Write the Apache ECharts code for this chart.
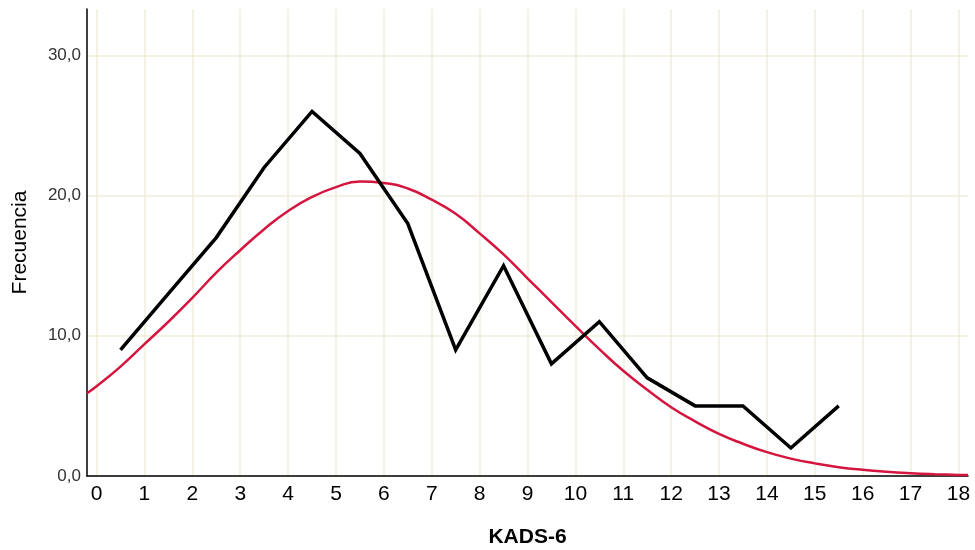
<!DOCTYPE html>
<html>
<head>
<meta charset="utf-8">
<script src="https://cdn.jsdelivr.net/npm/echarts@6/dist/echarts.min.js"></script>
<style>html,body{margin:0;padding:0;background:#fff}#c{width:975px;height:550px}</style>
</head>
<body>
<div id="c"></div>
<script>
// Frequency polygon (midpoints of score intervals)
const polyX = [0.5, 1.5, 2.5, 3.5, 4.5, 5.5, 6.5, 7.5, 8.5, 9.5, 10.5, 11.5, 12.5, 13.5, 14.5, 15.5];
const polyY = [9, 13, 17, 22, 26, 23, 18, 9, 15, 8, 11, 7, 5, 5, 2, 5];
// Normal curve, values
const curveX = [-0.2, 0, 0.5, 1, 1.5, 2, 2.5, 3, 3.5, 4, 4.5, 5, 5.5, 6, 6.5, 7, 7.5, 8, 8.5, 9, 9.5, 10,
                10.5, 11, 11.5, 12, 12.5, 13, 13.5, 14, 14.5, 15, 15.5, 16, 16.5, 17, 17.5, 18, 18.2];
const curveY = [5.9, 6.4, 7.8, 9.4, 11.0, 12.7, 14.5, 16.1, 17.6, 18.9, 19.9, 20.6, 21.0, 20.9, 20.5, 19.7, 18.7, 17.3, 15.8, 14.1, 12.4, 10.7,
                9.05, 7.5, 6.15, 4.9, 3.9, 3.0, 2.3, 1.7, 1.24, 0.9, 0.63, 0.44, 0.3, 0.2, 0.13, 0.08, 0.07];
// Tick labels
const xTicks = [0, 1, 2, 3, 4, 5, 6, 7, 8, 9, 10, 11, 12, 13, 14, 15, 16, 17, 18];
const yTicks = [0, 10, 20, 30];

const chart = echarts.init(document.getElementById('c'), null, {renderer: 'canvas'});
const font = '"Liberation Sans", Arial, sans-serif';
chart.setOption({
  animation: false,
  grid: {left: 87, top: 9, right: 7, bottom: 74, containLabel: false, outerBoundsMode: 'none'},
  xAxis: {
    type: 'value', min: -0.2, max: 18.2,
    name: 'KADS-6', nameLocation: 'middle', nameGap: 51,
    nameTextStyle: {fontFamily: font, fontSize: 21, fontWeight: 'bold', color: '#000'},
    axisLine: {show: true, onZero: false, lineStyle: {color: '#000', width: 1.5}},
    axisTick: {show: false, customValues: xTicks},
    axisLabel: {customValues: xTicks, fontFamily: font, fontSize: 21, color: '#000', margin: 8},
    splitLine: {show: true, lineStyle: {color: '#f1ecdc', width: 1.5}}
  },
  yAxis: {
    type: 'value', min: 0, max: 33.3,
    name: 'Frecuencia', nameLocation: 'middle', nameGap: 56,
    nameTextStyle: {fontFamily: font, fontSize: 21, color: '#000'},
    axisLine: {show: true, onZero: false, lineStyle: {color: '#000', width: 1.5}},
    axisTick: {show: false, customValues: yTicks},
    axisLabel: {customValues: yTicks, fontFamily: font, fontSize: 17, color: '#333', margin: 6,
      formatter: v => v.toFixed(1).replace('.', ',')},
    splitLine: {show: true, lineStyle: {color: '#f1ecdc', width: 1.5}}
  },
  series: [
    {
      type: 'line', smooth: true, showSymbol: false, symbol: 'none', clip: true,
      data: curveX.map((x, i) => [x, curveY[i]]),
      lineStyle: {color: '#d4163f', width: 2.5}, z: 2
    },
    {
      type: 'line', showSymbol: false, symbol: 'none',
      data: polyX.map((x, i) => [x, polyY[i]]),
      lineStyle: {color: '#000', width: 3.5, join: 'miter'}, z: 3
    }
  ]
});
</script>
</body>
</html>
